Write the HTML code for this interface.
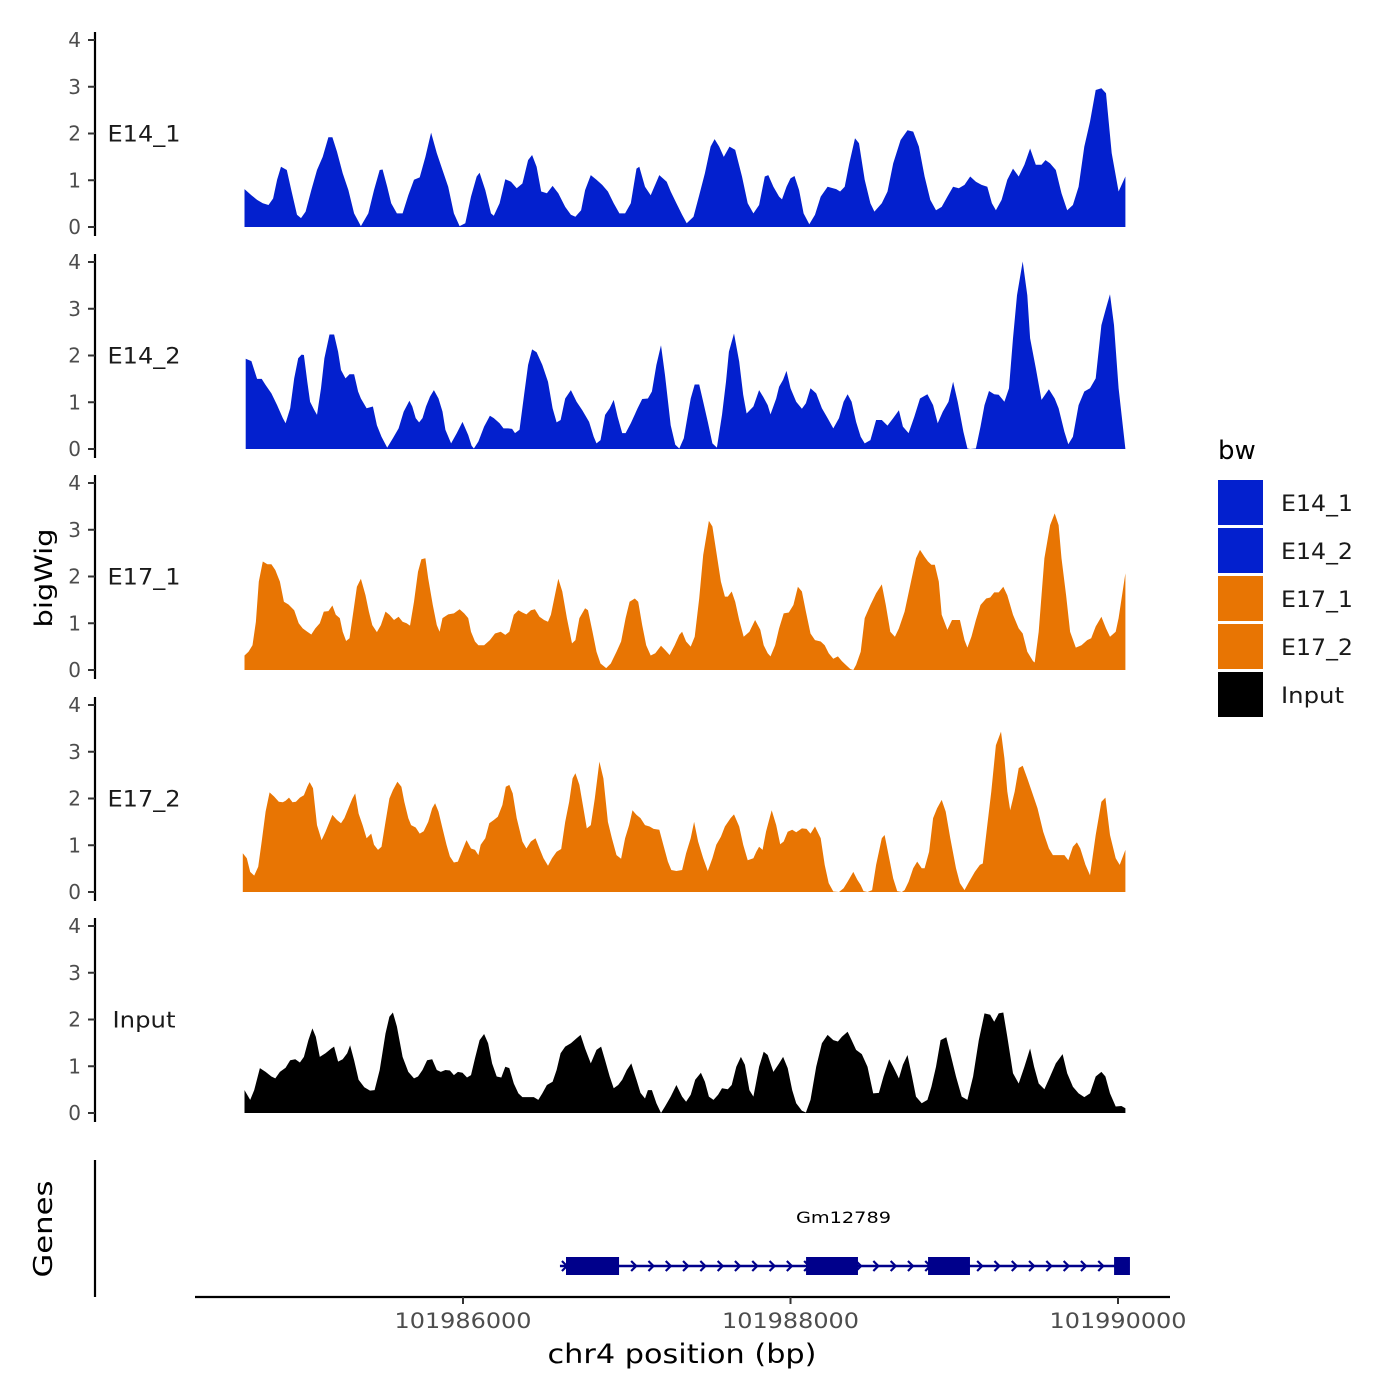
<!DOCTYPE html>
<html><head><meta charset="utf-8">
<style>
html,body{margin:0;padding:0;background:#fff;}
svg{display:block;font-family:"DejaVu Sans","Liberation Sans",sans-serif;}
</style></head>
<body>
<svg id="chart" width="1400" height="1400" viewBox="0 0 1400 1400" xmlns="http://www.w3.org/2000/svg">
<rect width="1400" height="1400" fill="#fff"/>
<g id="tracks"></g>
<g id="axes"></g>
<text x="0" y="0" transform="translate(52,578) rotate(-90)" text-anchor="middle" font-size="24" textLength="99" lengthAdjust="spacingAndGlyphs" fill="#000">bigWig</text>
<text x="0" y="0" transform="translate(52,1229) rotate(-90)" text-anchor="middle" font-size="26" textLength="97" lengthAdjust="spacingAndGlyphs" fill="#000">Genes</text>
<text x="682" y="1363" text-anchor="middle" font-size="27" textLength="269" lengthAdjust="spacingAndGlyphs" fill="#000">chr4 position (bp)</text>
<g id="genes"></g>
<g id="legend"></g>
</svg>
<script>
const seriesNames = ["E14_1","E14_2","E17_1","E17_2","Input"];
const seriesColors = ["#0320CE","#0320CE","#E87503","#E87503","#000000"];
const regionStart = 101984638;
const binBp = 3.484;
const yTicks = [0,1,2,3,4];
const xTicks = [101986000,101988000,101990000];

const e141Bins = [8,20,30,40,50,58,65,72,82,90,100,107,115,125,135,145,155,162,170,180,190,200,212,225,235,245,250,258,265,275,285,295,305,315,325,335,345,355,365,375,385,395,405,415,420,430,440,445,455,465,475,485,495,505,512,520,528,538,548,558,570,580,588,598,605,615,625,635,645,655,665,675,685,695,700,710,720,735,748,755,765,775,783,795,805,815,825,832,840,848,858,868,880,890,900,910,920,926,935,945,950,958,965,972,980,988,998,1008,1018,1030,1045,1052,1060,1068,1078,1085,1095,1105,1112,1125,1135,1145,1158,1170,1180,1190,1200,1210,1220,1230,1240,1250,1260,1270,1280,1290,1300,1310,1318,1325,1335,1345,1355,1365,1375,1385,1395,1405,1412,1420,1430,1440,1450,1460,1470,1480,1490,1500,1510,1518,1528,1540,1552];
const e141Vals = [0.81,0.68,0.58,0.51,0.47,0.61,1.01,1.29,1.22,0.79,0.26,0.19,0.33,0.79,1.22,1.50,1.92,1.92,1.61,1.15,0.79,0.29,0.02,0.29,0.79,1.22,1.23,0.86,0.51,0.29,0.29,0.68,1.01,1.06,1.50,2.02,1.58,1.22,0.86,0.29,0.02,0.08,0.65,1.08,1.16,0.79,0.29,0.24,0.51,1.02,0.97,0.83,0.93,1.43,1.54,1.29,0.76,0.72,0.88,0.72,0.43,0.26,0.22,0.36,0.79,1.11,1.01,0.90,0.76,0.51,0.29,0.29,0.51,1.25,1.29,0.86,0.68,1.11,0.97,0.76,0.51,0.26,0.08,0.22,0.68,1.15,1.72,1.88,1.72,1.50,1.72,1.65,1.08,0.51,0.29,0.47,1.08,1.11,0.86,0.65,0.59,0.86,1.04,1.09,0.79,0.29,0.06,0.26,0.65,0.86,0.81,0.76,0.86,1.36,1.90,1.79,1.01,0.51,0.33,0.51,0.76,1.36,1.86,2.07,2.04,1.72,1.08,0.58,0.36,0.43,0.65,0.86,0.83,0.90,1.08,0.97,0.90,0.86,0.51,0.36,0.58,1.01,1.25,1.08,1.33,1.68,1.33,1.33,1.43,1.36,1.22,0.72,0.36,0.47,0.86,1.72,2.25,2.93,2.97,2.86,1.58,0.76,1.08];

const e142Bins = [10,20,30,38,45,55,65,75,80,88,95,102,108,112,118,123,130,135,142,148,157,165,172,177,185,192,200,207,212,222,233,240,248,258,268,278,287,297,302,308,314,320,326,333,340,348,355,360,370,380,390,400,406,410,418,428,438,445,455,462,470,477,482,490,498,505,512,520,530,540,548,555,562,570,580,590,600,612,620,625,632,640,648,655,662,670,676,685,697,705,715,722,730,738,745,755,763,770,778,785,790,797,805,812,820,828,836,845,852,857,866,875,882,888,900,910,917,925,930,940,945,952,958,965,975,985,992,1000,1010,1020,1030,1040,1050,1058,1065,1072,1080,1088,1095,1105,1115,1125,1135,1145,1155,1162,1172,1182,1192,1205,1215,1223,1232,1242,1250,1258,1268,1275,1280,1290,1298,1305,1313,1322,1330,1340,1348,1355,1362,1372,1380,1385,1395,1405,1418,1428,1435,1445,1452,1460,1470,1480,1490,1500,1510,1518,1525,1532,1540,1552];
const e142Vals = [1.93,1.88,1.50,1.50,1.37,1.19,0.94,0.66,0.55,0.87,1.51,1.94,2.02,2.01,1.44,1.01,0.84,0.73,1.30,1.94,2.45,2.45,2.08,1.69,1.51,1.60,1.60,1.23,1.08,0.87,0.91,0.51,0.26,0.03,0.23,0.44,0.80,1.03,0.91,0.66,0.57,0.66,0.91,1.12,1.26,1.08,0.80,0.41,0.12,0.34,0.58,0.30,0.07,0.01,0.16,0.48,0.71,0.66,0.55,0.44,0.44,0.43,0.34,0.41,1.16,1.80,2.13,2.07,1.80,1.44,0.87,0.57,0.62,1.08,1.26,1.01,0.83,0.58,0.26,0.12,0.19,0.73,0.87,1.05,0.69,0.34,0.34,0.55,0.87,1.07,1.08,1.23,1.80,2.22,1.58,0.51,0.09,0.01,0.23,0.73,1.08,1.38,1.38,1.01,0.58,0.12,0.03,0.73,1.44,2.08,2.47,1.87,1.16,0.76,0.91,1.26,1.12,0.94,0.74,1.08,1.33,1.48,1.67,1.30,1.01,0.86,0.98,1.30,1.19,0.87,0.66,0.44,0.66,1.01,1.17,1.01,0.58,0.26,0.12,0.19,0.62,0.62,0.50,0.66,0.83,0.48,0.34,0.69,1.08,1.17,0.94,0.55,0.80,1.01,1.44,1.01,0.37,0.01,0,0.01,0.48,0.94,1.24,1.17,1.16,1.01,1.30,2.37,3.29,4.01,3.29,2.37,1.73,1.05,1.28,1.08,0.87,0.37,0.10,0.26,0.94,1.23,1.30,1.51,2.65,3.01,3.31,2.65,1.30,0];

const e171Bins = [8,15,22,28,33,40,48,55,62,70,77,85,95,103,110,118,125,132,140,147,155,162,168,175,180,186,192,198,205,212,220,226,232,240,247,255,262,270,278,285,292,298,305,312,318,325,330,338,345,350,355,365,375,385,393,400,405,412,418,428,438,447,457,465,472,480,488,495,502,510,517,525,533,540,545,552,558,565,573,582,588,595,605,610,618,625,632,642,650,660,668,676,683,692,698,705,712,720,728,738,745,753,762,770,775,782,790,797,805,812,822,828,835,843,850,855,862,868,875,883,893,903,912,918,925,930,938,945,953,962,970,978,985,992,1000,1008,1018,1025,1032,1040,1048,1055,1062,1070,1075,1080,1088,1095,1105,1115,1125,1132,1140,1148,1155,1165,1175,1185,1192,1200,1206,1212,1218,1225,1230,1240,1248,1256,1262,1270,1275,1282,1290,1298,1308,1315,1322,1330,1338,1345,1355,1365,1372,1380,1390,1393,1400,1410,1420,1428,1435,1440,1448,1455,1465,1475,1485,1492,1500,1510,1518,1525,1535,1540,1552];
const e171Vals = [0.31,0.39,0.53,1.03,1.89,2.32,2.26,2.26,2.14,1.89,1.46,1.40,1.28,1.00,0.89,0.82,0.76,0.89,1.00,1.25,1.26,1.38,1.18,1.11,0.82,0.62,0.68,1.18,1.78,1.95,1.60,1.25,0.96,0.81,0.96,1.25,1.18,1.07,1.14,1.03,1.00,0.95,1.46,2.10,2.37,2.39,1.96,1.39,0.96,0.82,1.11,1.19,1.21,1.30,1.21,1.11,0.82,0.61,0.53,0.53,0.64,0.78,0.82,0.75,0.82,1.18,1.28,1.23,1.19,1.28,1.30,1.14,1.07,1.03,1.18,1.60,1.95,1.68,1.11,0.57,0.64,1.11,1.32,1.28,0.82,0.39,0.14,0.04,0.14,0.39,0.61,1.11,1.46,1.53,1.46,0.96,0.53,0.31,0.36,0.52,0.43,0.32,0.53,0.75,0.82,0.61,0.50,0.71,1.53,2.46,3.19,3.07,2.53,1.89,1.57,1.57,1.68,1.46,1.07,0.71,0.82,1.07,0.86,0.53,0.36,0.29,0.53,0.89,1.21,1.23,1.39,1.78,1.68,1.25,0.78,0.64,0.61,0.53,0.36,0.24,0.29,0.19,0.11,0.02,0,0.11,0.39,1.11,1.39,1.64,1.83,1.39,0.82,0.71,0.89,1.25,1.82,2.39,2.57,2.42,2.32,2.25,2.25,1.89,1.18,0.86,1.07,1.07,1.07,0.64,0.48,0.71,1.07,1.39,1.53,1.55,1.66,1.66,1.78,1.60,1.18,0.89,0.78,0.39,0.19,0.16,0.82,2.39,3.10,3.35,3.10,2.39,1.60,0.82,0.48,0.53,0.64,0.68,0.93,1.14,0.89,0.71,0.82,1.11,2.07];

const e172Bins = [5,12,18,25,32,38,45,52,60,68,75,80,86,92,98,105,112,118,122,128,135,143,150,157,162,170,177,183,190,197,202,208,215,222,230,235,242,248,255,262,268,276,283,288,295,300,308,315,322,330,337,342,348,355,362,368,375,382,390,397,405,412,418,422,430,437,445,452,460,466,472,478,485,495,502,510,518,525,532,540,547,555,563,570,577,583,588,595,602,608,615,622,630,637,645,652,660,668,675,682,688,695,702,710,718,725,735,742,750,756,765,775,782,790,796,803,812,820,828,835,843,850,860,866,875,882,890,900,905,910,916,922,932,940,947,953,960,968,975,985,993,1000,1008,1018,1025,1032,1040,1050,1058,1065,1075,1082,1088,1093,1100,1108,1115,1125,1130,1138,1145,1152,1160,1165,1172,1180,1187,1195,1200,1208,1215,1222,1230,1237,1245,1255,1262,1270,1278,1288,1297,1302,1310,1317,1325,1334,1340,1345,1350,1358,1365,1372,1380,1388,1398,1408,1418,1425,1435,1445,1452,1460,1467,1473,1482,1490,1500,1510,1517,1525,1535,1542,1552];
const e172Vals = [0.83,0.72,0.43,0.35,0.54,1.08,1.72,2.13,2.04,1.93,1.92,1.95,2.02,1.92,1.93,2.02,2.07,2.25,2.35,2.22,1.43,1.11,1.29,1.50,1.65,1.54,1.47,1.58,1.79,2.00,2.11,1.68,1.43,1.15,1.25,1.01,0.90,0.97,1.50,2.00,2.18,2.36,2.25,1.93,1.58,1.43,1.38,1.25,1.30,1.50,1.79,1.90,1.72,1.36,1.01,0.76,0.63,0.65,0.90,1.11,0.93,0.90,0.79,1.01,1.15,1.47,1.54,1.61,1.86,2.25,2.29,2.11,1.58,1.08,0.93,1.08,1.15,0.93,0.72,0.56,0.72,0.86,0.92,1.50,1.93,2.43,2.54,2.29,1.79,1.36,1.43,2.00,2.79,2.43,1.50,1.15,0.79,0.71,1.15,1.43,1.75,1.65,1.58,1.43,1.40,1.35,1.33,1.01,0.65,0.47,0.45,0.47,0.83,1.15,1.50,1.08,0.72,0.45,0.72,1.01,1.18,1.40,1.58,1.66,1.40,1.01,0.68,0.72,0.86,0.97,0.90,1.29,1.75,1.43,1.02,1.08,1.29,1.33,1.28,1.36,1.35,1.25,1.40,1.15,0.58,0.19,0.01,0,0.08,0.22,0.43,0.26,0.15,0.02,0,0.04,0.58,1.15,1.22,0.72,0.29,0.02,0,0.04,0.22,0.51,0.65,0.51,0.51,0.86,1.58,1.79,1.97,1.72,1.15,0.51,0.19,0.04,0.22,0.43,0.58,0.61,1.43,2.15,3.14,3.43,2.86,2.15,1.75,2.15,2.65,2.70,2.43,2.15,1.79,1.29,0.93,0.79,0.79,0.79,0.68,0.97,1.06,0.93,0.58,0.36,1.22,1.93,2.02,1.22,0.72,0.58,0.90];

const inputBins = [8,18,25,35,45,55,62,70,80,88,97,105,112,120,127,133,140,150,160,165,172,180,188,193,200,208,218,228,236,245,255,262,268,275,285,295,305,312,320,328,337,345,352,360,368,375,382,390,398,405,412,420,428,435,442,450,458,465,472,480,488,495,505,515,523,530,538,548,555,562,570,580,590,597,605,615,625,633,640,648,655,663,670,678,686,695,702,710,715,722,730,738,745,755,765,775,782,790,798,808,815,822,830,838,845,855,862,870,878,885,893,900,910,918,925,935,945,952,960,968,975,985,992,1000,1010,1020,1030,1040,1048,1055,1065,1072,1080,1090,1100,1110,1120,1128,1138,1145,1155,1162,1170,1178,1185,1195,1205,1212,1220,1228,1238,1245,1255,1265,1275,1285,1295,1305,1315,1322,1330,1338,1345,1355,1365,1375,1385,1392,1400,1410,1420,1430,1442,1450,1460,1470,1480,1490,1500,1510,1517,1525,1535,1545,1552];
const inputVals = [0.49,0.28,0.49,0.96,0.88,0.78,0.74,0.88,0.97,1.13,1.15,1.08,1.20,1.56,1.81,1.63,1.20,1.28,1.38,1.42,1.10,1.15,1.28,1.45,1.13,0.71,0.55,0.48,0.49,0.92,1.70,2.06,2.15,1.85,1.20,0.88,0.74,0.78,0.92,1.13,1.15,0.92,0.88,0.92,0.91,0.81,0.88,0.86,0.76,0.81,1.17,1.56,1.69,1.49,1.06,0.78,0.76,0.99,0.96,0.63,0.42,0.34,0.34,0.34,0.28,0.42,0.60,0.67,0.92,1.28,1.42,1.49,1.60,1.67,1.38,1.06,1.35,1.42,1.13,0.78,0.53,0.60,0.71,0.92,1.06,0.71,0.43,0.31,0.49,0.49,0.21,0,0.14,0.35,0.60,0.35,0.24,0.39,0.71,0.86,0.67,0.35,0.28,0.39,0.53,0.51,0.60,0.99,1.20,1.03,0.49,0.35,0.99,1.31,1.24,0.88,1.06,1.20,0.96,0.49,0.21,0.05,0.01,0.28,0.99,1.49,1.67,1.56,1.53,1.63,1.74,1.56,1.35,1.26,0.99,0.42,0.43,0.78,1.15,0.99,0.74,1.03,1.24,0.78,0.35,0.21,0.28,0.56,0.99,1.56,1.62,1.28,0.78,0.35,0.28,0.78,1.56,2.13,2.10,1.95,2.13,2.15,1.63,0.85,0.63,0.99,1.38,0.99,0.63,0.51,0.78,1.06,1.26,0.85,0.56,0.42,0.34,0.42,0.78,0.88,0.78,0.42,0.14,0.15,0.10];

const geneName = "Gm12789";
const geneStart = 101986592;
const geneEnd = 101990055;
const exonStarts = [101986629,101988095,101988840,101989976];
const exonEnds = [101986953,101988412,101989096,101990073];

const allBins = [e141Bins,e142Bins,e171Bins,e172Bins,inputBins];
const allVals = [e141Vals,e142Vals,e171Vals,e172Vals,inputVals];

const NS = "http://www.w3.org/2000/svg";
function mk(tag, attrs, parent){const e=document.createElementNS(NS,tag);for(const k in attrs)e.setAttribute(k,attrs[k]);parent.appendChild(e);return e;}
const panelBase = [227,449,670,892,1113];
const unitPx = 46.75;
function xScale(bp){return 463 + (bp-101986000)*163.75/1000;}
function binToBp(b){return regionStart + b*binBp;}
function yScale(p,v){return panelBase[p] - v*unitPx;}

const tracks = document.getElementById('tracks');
const axes = document.getElementById('axes');
for(let p=0;p<5;p++){
  const bins=allBins[p], vals=allVals[p];
  const n=Math.min(bins.length,vals.length);
  let d="M"+xScale(binToBp(bins[0])).toFixed(1)+","+panelBase[p];
  for(let i=0;i<n;i++){d+=" L"+xScale(binToBp(bins[i])).toFixed(1)+","+yScale(p,vals[i]).toFixed(1);}
  d+=" L"+xScale(binToBp(bins[n-1])).toFixed(1)+","+panelBase[p]+" Z";
  const path=mk('path',{d:d,fill:seriesColors[p],stroke:'none'},tracks);
  
  
  const top=yScale(p,4)-8, bot=panelBase[p]+9;
  const al=mk('line',{x1:95,x2:95,y1:top,y2:bot,stroke:'#000','stroke-width':2.2},axes);
  
  
  yTicks.forEach(t=>{
    const y=yScale(p,t);
    const tk=mk('line',{x1:88,x2:95,y1:y,y2:y,stroke:'#333','stroke-width':2},axes);
    
    
    const tl=mk('text',{x:81,y:y+7,'text-anchor':'end','font-size':20,fill:'#4d4d4d'},axes);
    tl.textContent=t;
    
    
  });
  const lab=mk('text',{x:144,y:yScale(p,2)+8,'text-anchor':'middle','font-size':22,fill:'#1a1a1a',textLength:73,lengthAdjust:'spacingAndGlyphs'},axes);
  lab.textContent=seriesNames[p];
  if(p===4){lab.setAttribute('textLength','63');}
  
  
}
const ga=mk('line',{x1:95,x2:95,y1:1160,y2:1297,stroke:'#000','stroke-width':2.2},axes);


const xa=mk('line',{x1:195,x2:1170,y1:1297,y2:1297,stroke:'#000','stroke-width':2.2},axes);


xTicks.forEach(t=>{
  const x=xScale(t);
  const tk=mk('line',{x1:x,x2:x,y1:1297,y2:1304,stroke:'#333','stroke-width':2},axes);
  
  
  const tl=mk('text',{x:x,y:1328,'text-anchor':'middle','font-size':21,fill:'#4d4d4d',textLength:137,lengthAdjust:'spacingAndGlyphs'},axes);
  tl.textContent=t;
  
  
});
const genes=document.getElementById('genes');
const gc='#00008B';
const gl=mk('line',{x1:xScale(geneStart),x2:xScale(geneEnd),y1:1266,y2:1266,stroke:gc,'stroke-width':2.5},genes);


for(let x=xScale(geneStart)+5;x<xScale(geneEnd)-4;x+=17.3){
  const c=mk('path',{d:`M${x-3},${1261} L${x+2},${1266} L${x-3},${1271}`,fill:'none',stroke:gc,'stroke-width':2.2},genes);
  
  
}
for(let i=0;i<exonStarts.length;i++){
  const x0=xScale(exonStarts[i]),x1=xScale(exonEnds[i]);
  const r=mk('rect',{x:x0,y:1257,width:x1-x0,height:18,fill:gc},genes);
  
  
}
const gt=mk('text',{x:xScale((geneStart+geneEnd)/2),y:1223,'text-anchor':'middle','font-size':16,fill:'#000',textLength:95,lengthAdjust:'spacingAndGlyphs'},genes);
gt.textContent=geneName;


const lg=document.getElementById('legend');
const lt=mk('text',{x:1218,y:459,'font-size':26,fill:'#000'},lg);
lt.textContent='bw';


for(let i=0;i<5;i++){
  const y=480+i*48;
  const k=mk('rect',{x:1218,y:y,width:45,height:45,fill:seriesColors[i]},lg);
  
  
  const t=mk('text',{x:1281,y:y+31,'font-size':22,fill:'#1a1a1a',textLength:(i===4?63:72),lengthAdjust:'spacingAndGlyphs'},lg);
  t.textContent=seriesNames[i];
  
  
}
</script>
</body></html>
